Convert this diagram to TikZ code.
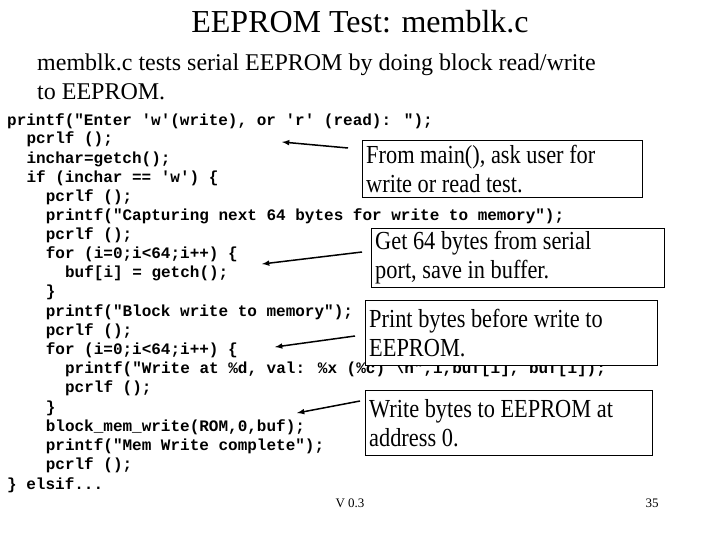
\documentclass[tikz,border=0pt]{standalone}
\usepackage{fontspec}
\setmainfont{Liberation Serif}
\newfontfamily\codefont{Liberation Mono}
\newfontfamily\notefont[FakeStretch=0.86]{Liberation Serif}
\begin{document}
\begin{tikzpicture}[x=1pt,y=-1pt,
 code/.style={anchor=west,inner sep=0pt,font=\codefont\bfseries\fontsize{16}{16}\selectfont},
 note/.style={draw=black,fill=white,anchor=north west,align=flush left,inner xsep=4pt,inner ysep=3pt,font=\notefont\fontsize{26}{29}\selectfont},
 pt/.style={->,>=latex,line width=1.5pt}]
\useasboundingbox (0,0) rectangle (720,540);
\node[font=\fontsize{32}{34}\selectfont] (title) at (360,22) {EEPROM Test: memblk.c};
\node[anchor=north west,align=left,inner sep=0pt,font=\fontsize{24}{29}\selectfont] (sub) at (37,54) {memblk.c tests serial EEPROM by doing block read/write\\to EEPROM.};
\foreach \t/\ind/\y [count=\i] in {
 {printf("Enter 'w'(write), or 'r' (read): ");}/0/121,
 {pcrlf ();}/1/139,
 {inchar=getch();}/1/159,
 {if (inchar == 'w') \{}/1/178,
 {pcrlf ();}/2/197,
 {printf("Capturing next 64 bytes for write to memory");}/2/216,
 {pcrlf ();}/2/235,
 {for (i=0;i<64;i++) \{}/2/254,
 {buf[i] = getch();}/3/273,
 {\}}/2/292,
 {printf("Block write to memory");}/2/312,
 {pcrlf ();}/2/331,
 {for (i=0;i<64;i++) \{}/2/350,
 {printf("Write at \%d, val: \%x (\%c) \textbackslash n",i,buf[i], buf[i]);}/3/369,
 {pcrlf ();}/3/388,
 {\}}/2/408,
 {block\_mem\_write(ROM,0,buf);}/2/427,
 {printf("Mem Write complete");}/2/446,
 {pcrlf ();}/2/465,
 {\} elsif...}/0/485}
 {\node[code] (c\i) at (7+19.3*\ind,\y) {\t};}
\node[note,text width=272pt,minimum height=57pt] (n1) at (362,140) {From main(), ask user for\\write or read test.};
\node[note,text width=285pt,minimum height=58pt] (n2) at (371,228) {Get 64 bytes from serial\\port, save in buffer.};
\node[note,text width=284pt,minimum height=65pt] (n3) at (365,300) {Print bytes before write to\\EEPROM.};
\node[note,text width=279pt,minimum height=65pt] (n4) at (365,390) {Write bytes to EEPROM at\\address 0.};
\coordinate (a1s) at (348,148); \coordinate (a1e) at (282,142);
\coordinate (a2s) at (362,252); \coordinate (a2e) at (262,264);
\coordinate (a3s) at (355,336); \coordinate (a3e) at (275,347);
\coordinate (a4s) at (360,401); \coordinate (a4e) at (297,413);
\draw[pt] (a1s) -- (a1e);
\draw[pt] (a2s) -- (a2e);
\draw[pt] (a3s) -- (a3e);
\draw[pt] (a4s) -- (a4e);
\node[font=\fontsize{13}{15}\selectfont] (ver) at (350,503) {V 0.3};
\node[font=\fontsize{13}{15}\selectfont] (pg) at (652,503) {35};
\end{tikzpicture}
\end{document}
